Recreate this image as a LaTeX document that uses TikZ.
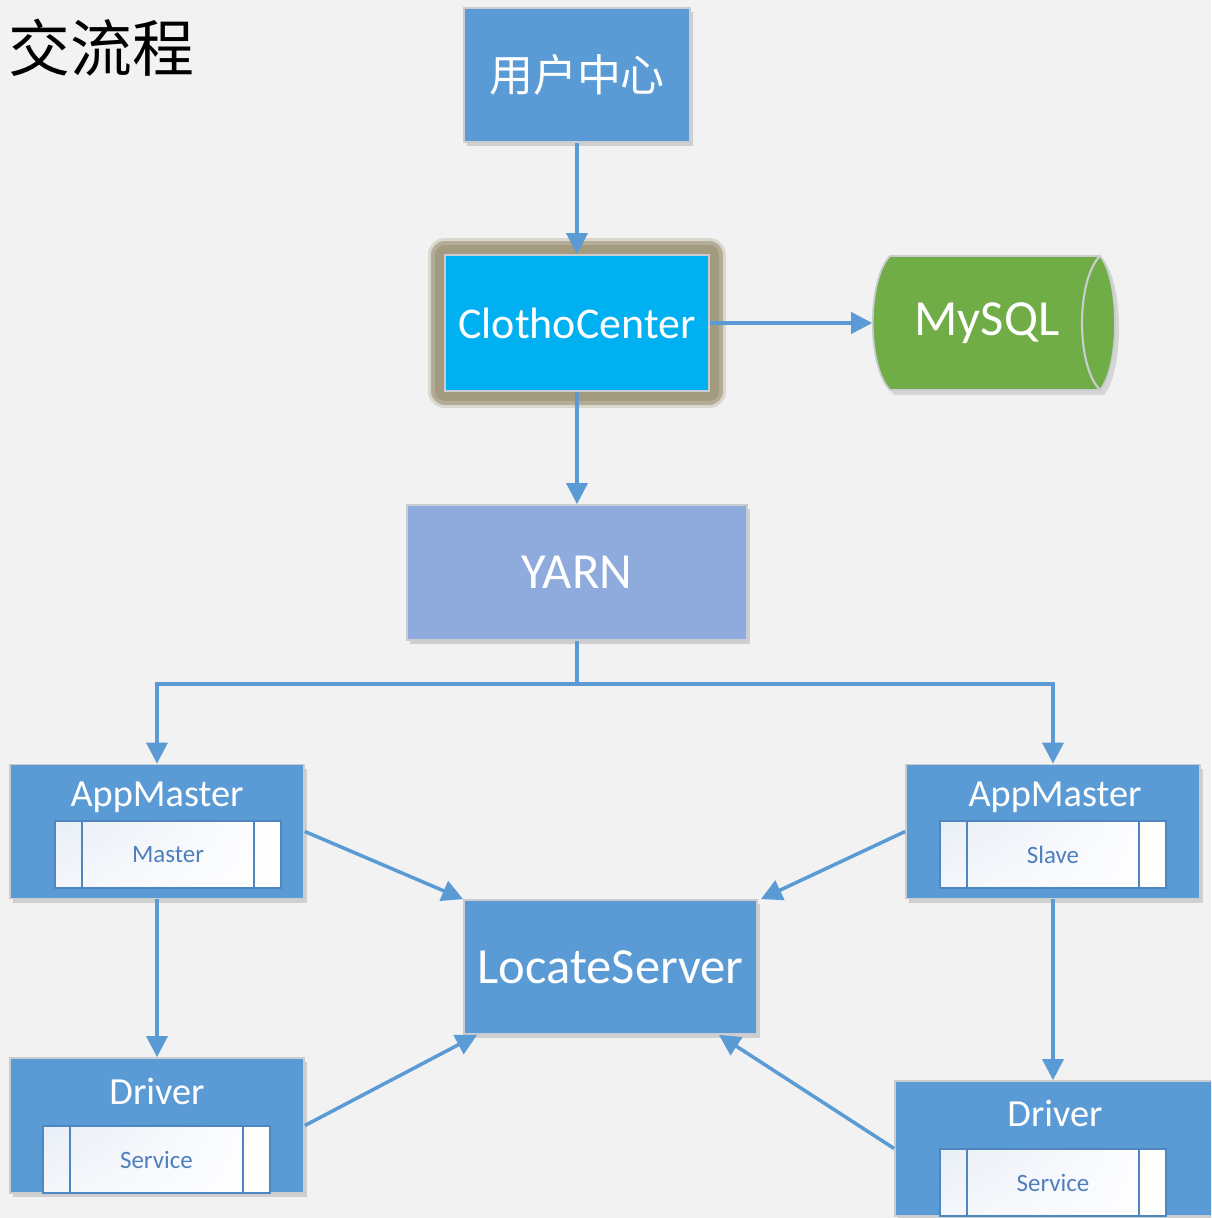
\documentclass[tikz,border=0pt]{standalone}
\usepackage{fontspec}
\setmainfont{Carlito}
\newfontfamily\cjk{Noto Sans CJK SC}
\usetikzlibrary{arrows.meta}
\usetikzlibrary{shadows}
\usetikzlibrary{shadings}
\definecolor{bggray}{HTML}{F2F2F2}
\definecolor{boxblue}{HTML}{5B9BD5}
\definecolor{boxedge}{HTML}{C9CDD2}
\definecolor{clotho}{HTML}{00B0F0}
\definecolor{glowc}{HTML}{A39B7F}
\definecolor{yarnc}{HTML}{8FAADC}
\definecolor{dbgreen}{HTML}{70AD47}
\definecolor{baredge}{HTML}{4F86C0}
\definecolor{barblue}{HTML}{E9EEF7}
\definecolor{bartext}{HTML}{4E80BD}

\begin{document}
\begin{tikzpicture}[x=1cm,y=-1cm,
  box/.style={draw=boxedge,line width=0.5pt,fill=boxblue,inner sep=0pt,text=white,
    drop shadow={shadow xshift=0.03cm,shadow yshift=-0.04cm,opacity=0.3,fill=gray}},
  bigbox/.style={box,font=\fontsize{14.4}{16}\selectfont},
  appbox/.style={box,minimum width=2.94cm,minimum height=1.34cm},
  apptitle/.style={inner sep=0pt,text=white,font=\fontsize{10.9}{12}\selectfont},
  bar/.style={draw=baredge,line width=0.8pt,upper left=barblue,lower right=white,upper right=white,lower left=barblue!50!white,
    minimum width=2.26cm,minimum height=0.67cm,inner sep=0pt,text=bartext,
    font=\fontsize{7.1}{8}\selectfont,
    path picture={
      \draw[baredge,line width=0.8pt] ([xshift=0.27cm]path picture bounding box.north west) -- ([xshift=0.27cm]path picture bounding box.south west);
      \draw[baredge,line width=0.8pt] ([xshift=-0.27cm]path picture bounding box.north east) -- ([xshift=-0.27cm]path picture bounding box.south east);}},
  arr/.style={draw=boxblue,line width=1pt,-{Triangle[length=6pt,width=6pt]}}]
  \useasboundingbox (0,0) rectangle (12.11,12.18);
  \clip (0,0) rectangle (12.11,12.18);
  \fill[bggray] (0,0) rectangle (12.11,12.18);

  \node[anchor=east,inner sep=0pt,font=\cjk\fontsize{17.6}{20}\selectfont] (head) at (1.95,0.48) {交流程};

  \node[box,minimum width=2.26cm,minimum height=1.34cm,font=\cjk\fontsize{12.5}{14}\selectfont] (uc) at (5.77,0.75) {用户中心};
  \node[box,fill=clotho,minimum width=2.64cm,minimum height=1.36cm,font=\fontsize{12.5}{14}\selectfont,
    preaction={draw=glowc,opacity=0.3,line width=0.34cm,line join=round},
    preaction={draw=glowc,opacity=0.7,line width=0.28cm,line join=round},
    preaction={draw=glowc,line width=0.2cm,line join=round}] (cc) at (5.77,3.23) {ClothoCenter};
  \node[bigbox,fill=yarnc,minimum width=3.40cm,minimum height=1.35cm] (yarn) at (5.77,5.725) {YARN};

  \fill[gray,opacity=0.25] (8.94,2.61) -- (11.04,2.61) .. controls (11.24,2.85) and (11.24,3.71) .. (11.04,3.95)
    -- (8.94,3.95) .. controls (8.71,3.71) and (8.71,2.85) .. (8.94,2.61) -- cycle;
  \filldraw[fill=dbgreen,draw=boxedge,line width=0.5pt] (8.90,2.56) -- (11.00,2.56) .. controls (11.20,2.80) and (11.20,3.66) .. (11.00,3.90)
    -- (8.90,3.90) .. controls (8.67,3.66) and (8.67,2.80) .. (8.90,2.56) -- cycle;
  \draw[boxedge,line width=0.6pt] (11.00,2.56) .. controls (10.76,2.80) and (10.76,3.66) .. (11.00,3.90);
  \node[minimum width=2.28cm,minimum height=1.34cm,inner sep=0pt,text=white,font=\fontsize{14.4}{16}\selectfont] (db) at (9.87,3.23) {MySQL};

  \node[appbox] (am1) at (1.57,8.315) {};
  \node[apptitle] (am1t) at (1.57,7.97) {AppMaster};
  \node[bar] (am1m) at (1.68,8.545) {Master};

  \node[appbox] (am2) at (10.53,8.315) {};
  \node[apptitle] (am2t) at (10.55,7.97) {AppMaster};
  \node[bar] (am2s) at (10.53,8.545) {Slave};

  \node[bigbox,minimum width=2.93cm,minimum height=1.34cm] (ls) at (6.105,9.67) {LocateServer};

  \node[appbox,minimum height=1.35cm] (dr1) at (1.57,11.255) {};
  \node[apptitle] (dr1t) at (1.57,10.91) {Driver};
  \node[bar,minimum width=2.27cm] (dr1s) at (1.565,11.595) {Service};

  \node[appbox,minimum width=3.2cm,minimum height=1.35cm] (dr2) at (10.55,11.485) {};
  \node[apptitle] (dr2t) at (10.55,11.13) {Driver};
  \node[bar] (dr2s) at (10.53,11.825) {Service};

  \draw[arr] (uc) -- (cc);
  \draw[arr] (cc.east) -- (db.west);
  \draw[arr] (cc) -- (yarn);
  \draw[arr] (yarn.south) -- ++(0,0.43) -| (am1.north);
  \draw[arr] (yarn.south) -- ++(0,0.43) -| (am2.north);
  \draw[arr] (am1) -- (dr1);
  \draw[arr] (am2.south) -- (am2.south |- dr2.north);
  \draw[arr] (am1.east) -- (ls.north west);
  \draw[arr] (am2.west) -- ([xshift=0.03cm]ls.north east);
  \draw[arr] (dr1.east) -- ([xshift=0.14cm]ls.south west);
  \draw[arr] (dr2.west) -- ([xshift=-0.39cm]ls.south east);
\end{tikzpicture}
\end{document}
